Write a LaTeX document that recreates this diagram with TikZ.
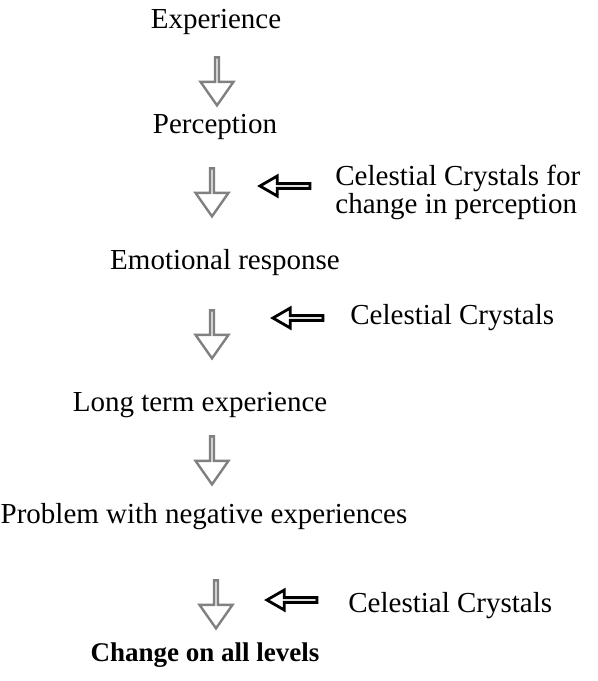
\documentclass[tikz,border=0pt]{standalone}
\usepackage{fontspec}
\setmainfont{Liberation Serif}
\usetikzlibrary{shapes.arrows}
\tikzset{
  stage/.style={font=\fontsize{14.5}{17}\selectfont, inner sep=0pt},
  laststage/.style={font=\fontsize{13.5}{16}\selectfont\bfseries, inner sep=0pt},
  remedy/.style={font=\fontsize{14.5}{14}\selectfont, inner sep=0pt, anchor=west, align=left},
  downblock/.style={single arrow, draw=black!50, line width=1.2pt, shape border rotate=270,
    minimum height=24pt, minimum width=16.5pt, inner sep=0pt, single arrow head extend=4.5pt,
    single arrow tip angle=70},
  sideblock/.style={single arrow, draw=black, line width=1.4pt, shape border rotate=180,
    minimum height=25pt, minimum width=10pt, inner sep=0pt, single arrow head extend=2.25pt,
    single arrow tip angle=60}
}
\begin{document}
\begin{tikzpicture}[x=0.5pt, y=-0.5pt]
  \useasboundingbox (0,0) rectangle (598,681);

  \node[stage] (exp) at (216,22) {Experience};
  \node[stage] (per) at (215,127) {Perception};
  \node[stage] (emo) at (225,263) {Emotional response};
  \node[stage] (lte) at (200,405) {Long term experience};
  \node[stage] (neg) at (204,517) {Problem with negative experiences};
  \node[laststage] (chg) at (205,655) {Change on all levels};

  \node[downblock] (a1) at (217,80) {};
  \node[downblock] (a2) at (212,191) {};
  \node[downblock] (a3) at (212,333) {};
  \node[downblock] (a4) at (212,459) {};
  \node[downblock] (a5) at (216,603) {};

  \node[sideblock] (s1) at (287,186) {};
  \node[sideblock] (s2) at (300,318) {};
  \node[sideblock] (s3) at (294,600) {};

  \node[remedy] (cc1) at (335,192) {Celestial Crystals for\\change in perception};
  \node[remedy] (cc2) at (350,318) {Celestial Crystals};
  \node[remedy] (cc3) at (348,606) {Celestial Crystals};
\end{tikzpicture}
\end{document}
